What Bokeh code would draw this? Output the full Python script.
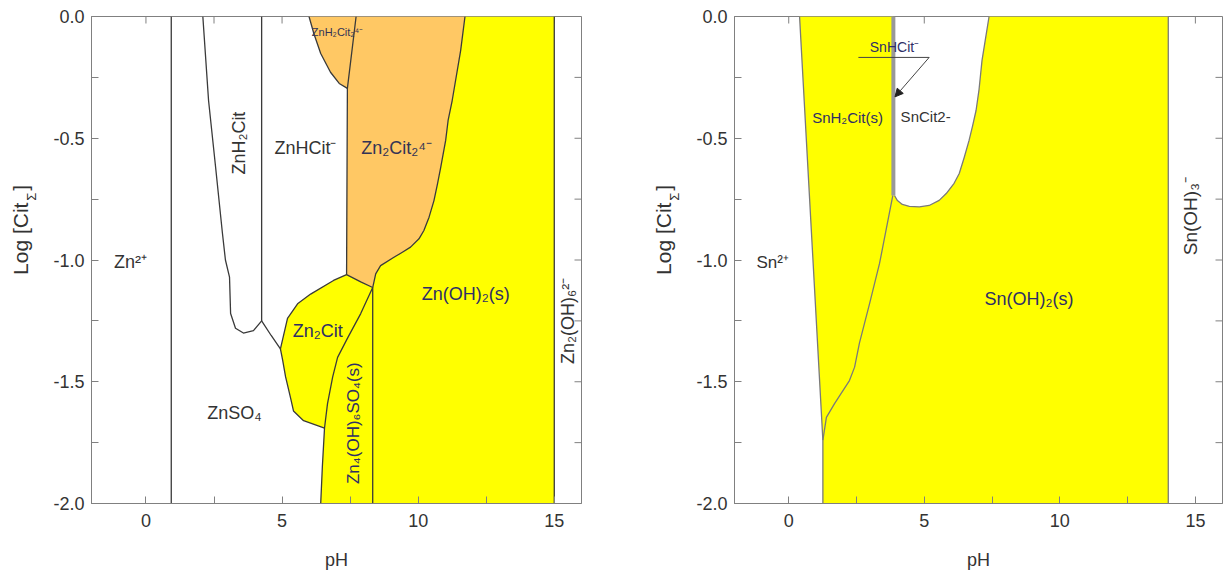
import math
from bokeh.plotting import figure
from bokeh.layouts import row
from bokeh.models import (Range1d, FixedTicker, PrintfTickFormatter, Arrow, NormalHead,
                          ColumnDataSource)
from bokeh.embed import file_html
from bokeh.resources import INLINE
from bokeh.core.properties import value

FONT = "Liberation Sans"

# ---------------- axes ----------------
ph_range = (-2, 16)
log_range = (-2, 0)
x_ticks = [0, 5, 10, 15]
x_minor = [2.5, 7.5, 12.5]
y_ticks = [-2.0, -1.5, -1.0, -0.5, 0.0]
y_minor = [-1.75, -1.25, -0.75, -0.25]
x_title = "pH"
y_title_parts = ["Log [Cit", "Σ", "]"]

# ---------------- Zn diagram boundaries (pH, log[Cit]) ----------------
zn_a_ph = [0.93, 0.93]
zn_a_log = [0.0, -2.0]
zn_h2cit_ph = [2.09, 2.30, 2.56, 2.81, 2.92, 3.07, 3.11, 3.29, 3.58, 3.95, 4.25]
zn_h2cit_log = [0.0, -0.345, -0.62, -0.89, -1.00, -1.07, -1.22, -1.28, -1.30, -1.29, -1.25]
zn_hcit_ph = [4.25, 4.25]
zn_hcit_log = [0.0, -1.25]
zn_so4_ph = [4.25, 4.60, 4.94]
zn_so4_log = [-1.25, -1.31, -1.365]
zn2cit_top_ph = [4.94, 5.20, 5.57, 6.05, 6.89, 7.37, 7.89, 8.33]
zn2cit_top_log = [-1.365, -1.24, -1.18, -1.14, -1.084, -1.06, -1.09, -1.113]
zn4_left_ph = [8.33, 7.89, 7.41, 7.04, 6.86, 6.67, 6.56, 6.48, 6.42]
zn4_left_log = [-1.113, -1.22, -1.32, -1.40, -1.48, -1.59, -1.69, -1.85, -2.0]
zn2cit_bot_ph = [6.56, 5.79, 5.42, 5.31, 5.13, 5.02, 4.94]
zn2cit_bot_log = [-1.69, -1.66, -1.62, -1.565, -1.48, -1.41, -1.365]
zn_oh2_ph = [8.33, 8.44, 8.62, 9.11, 9.42, 9.72, 10.03, 10.21, 10.40, 10.58, 10.71, 10.83,
             11.01, 11.10, 11.25, 11.56, 11.72]
zn_oh2_log = [-1.113, -1.057, -1.023, -0.989, -0.968, -0.947, -0.913, -0.879, -0.824, -0.756,
              -0.687, -0.619, -0.509, -0.427, -0.345, -0.140, 0.0]
zn_sep_ph = [8.33, 8.33]
zn_sep_log = [-1.113, -2.0]
zn_cit2_left_ph = [7.37, 7.40, 7.72]
zn_cit2_left_log = [-1.06, -0.295, 0.0]
zn_bowl_ph = [5.99, 6.17, 6.42, 6.78, 7.10, 7.40]
zn_bowl_log = [0.0, -0.071, -0.152, -0.229, -0.275, -0.295]
zn_oh6_ph = [15.0, 15.0]
zn_oh6_log = [0.0, -2.0]

zn_labels = ["Zn²⁺", "ZnH₂Cit", "ZnHCit⁻", "Zn₂Cit₂⁴⁻", "ZnH₂Cit₂⁴⁻", "Zn₂Cit",
             "ZnSO₄", "Zn₄(OH)₆SO₄(s)", "Zn(OH)₂(s)", "Zn₂(OH)₆²⁻"]
zn_label_ph = [-0.57, 3.40, 5.86, 9.21, 7.04, 6.31, 3.25, 7.63, 11.75, 15.50]
zn_label_log = [-1.01, -0.52, -0.54, -0.54, -0.062, -1.29, -1.63, -1.67, -1.14, -1.25]
zn_label_rot = [0, 90, 0, 0, 0, 0, 0, 90, 0, 90]
zn_label_size = ["18px", "18px", "18px", "18px", "11px", "18px", "18px", "17px", "18px", "18px"]
zn_label_color = ["#333333", "#333333", "#333333", "#333355", "#333355", "#2e2e66",
                  "#333333", "#2e2e66", "#2e2e66", "#333333"]

# ---------------- Sn diagram boundaries ----------------
sn_left_ph = [0.40, 1.26, 1.26]
sn_left_log = [0.0, -1.74, -2.0]
sn_curve_ph = [1.26, 1.39, 1.69, 2.24, 2.43, 2.61, 2.98, 3.35, 3.84]
sn_curve_log = [-1.74, -1.646, -1.59, -1.495, -1.44, -1.34, -1.18, -1.014, -0.735]
sn_band_ph = [3.86, 3.86]
sn_band_log = [0.0, -0.735]
sn_cit2_ph = [3.90, 4.01, 4.19, 4.45, 4.82, 5.18, 5.55, 5.81, 6.10, 6.29, 6.47, 6.65, 6.78,
              6.91, 7.02, 7.13, 7.26, 7.39]
sn_cit2_log = [-0.735, -0.756, -0.772, -0.78, -0.782, -0.776, -0.755, -0.727, -0.685, -0.645,
               -0.58, -0.51, -0.45, -0.386, -0.30, -0.18, -0.09, 0.0]
sn_oh3_ph = [14.0, 14.0]
sn_oh3_log = [0.0, -2.0]
sn_pointer_ph = [2.57, 5.18, 3.92]
sn_pointer_log = [-0.168, -0.168, -0.33]

sn_labels = ["SnHCit⁻", "SnH₂Cit(s)", "SnCit2-", "Sn²⁺", "Sn(OH)₂(s)", "Sn(OH)₃⁻"]
sn_label_ph = [3.90, 2.17, 5.05, -0.59, 8.86, 14.82]
sn_label_log = [-0.127, -0.415, -0.41, -1.01, -1.16, -0.82]
sn_label_rot = [0, 0, 0, 0, 0, 90]
sn_label_size = ["14px", "15px", "15px", "17px", "18px", "19px"]
sn_label_color = ["#2e2e66", "#2e2e66", "#333333", "#333333", "#2e2e66", "#333333"]

YELLOW = "#FFFF00"
ORANGE = "#FFC864"
AXIS = "#808080"
TXT = "#333333"
H = 581
TOP, BOTTOM = 16, 78


def title_fig(width):
    """Narrow strip holding the rotated y-axis title Log [Cit_Σ]."""
    t = figure(width=width, height=H, x_range=Range1d(0, width), y_range=Range1d(0, H),
               output_backend="svg", toolbar_location=None, x_axis_type=None, y_axis_type=None,
               min_border_left=0, min_border_right=0, min_border_top=0, min_border_bottom=0)
    t.grid.visible = False
    t.outline_line_color = None
    cx = 20
    ys = H - 215               # centre of the subscript
    src = ColumnDataSource(dict(
        x=[cx, cx + 11, cx],
        y=[ys - 7, ys, ys + 7],
        text=y_title_parts,
        size=["21px", "13px", "21px"],
        align=["right", "center", "left"]))
    t.text(x="x", y="y", text="text", angle=math.pi / 2, text_font_size="size",
           text_font=value(FONT), text_color=TXT, text_align="align", text_baseline="middle",
           source=src)
    return t


def make_fig(width, left, right):
    p = figure(width=width, height=H, x_range=Range1d(*ph_range), y_range=Range1d(*log_range),
               output_backend="svg", toolbar_location=None,
               min_border_left=left, min_border_right=right, min_border_top=TOP,
               min_border_bottom=BOTTOM)
    p.grid.visible = False
    p.outline_line_color = AXIS
    p.outline_line_width = 1

    for ax, ticks, minor, fmt in ((p.xaxis[0], x_ticks, x_minor, "%d"),
                                  (p.yaxis[0], y_ticks, y_minor, "%.1f")):
        ax.ticker = FixedTicker(ticks=ticks, minor_ticks=minor)
        ax.formatter = PrintfTickFormatter(format=fmt)
        ax.axis_line_color = AXIS
        ax.major_tick_line_color = AXIS
        ax.minor_tick_line_color = AXIS
        ax.major_tick_in = 7
        ax.major_tick_out = 0
        ax.minor_tick_in = 7
        ax.minor_tick_out = 0
        ax.major_label_text_font = FONT
        ax.major_label_text_color = TXT
        ax.major_label_text_font_size = "18px"
    p.xaxis[0].major_label_standoff = 10
    p.yaxis[0].major_label_standoff = 7
    p.xaxis[0].axis_label = x_title
    p.xaxis[0].axis_label_text_font = FONT
    p.xaxis[0].axis_label_text_font_size = "18px"
    p.xaxis[0].axis_label_text_font_style = "normal"
    p.xaxis[0].axis_label_text_color = TXT
    p.xaxis[0].axis_label_standoff = 20

    # inward ticks on the top and right frame edges
    frame_w = width - left - right
    frame_h = H - TOP - BOTTOM
    dy = 7 * (log_range[1] - log_range[0]) / frame_h
    dx = 7 * (ph_range[1] - ph_range[0]) / frame_w
    tx = x_ticks + x_minor
    p.segment(x0=tx, y0=[log_range[1]] * len(tx), x1=tx, y1=[log_range[1] - dy] * len(tx),
              line_color=AXIS, line_width=1)
    ty = y_ticks + y_minor
    p.segment(x0=[ph_range[1]] * len(ty), y0=ty, x1=[ph_range[1] - dx] * len(ty), y1=ty,
              line_color=AXIS, line_width=1)
    return p


def add_labels(p, texts, xs, ys, rots, sizes, colors):
    src = ColumnDataSource(dict(x=xs, y=ys, text=texts,
                                angle=[math.radians(r) for r in rots],
                                size=sizes, color=colors))
    p.text(x="x", y="y", text="text", angle="angle", text_font_size="size", text_color="color",
           text_font=value(FONT), text_align="center", text_baseline="middle", source=src)


# ================= left: Zn =================
t1 = title_fig(45)
p1 = make_fig(598, 46, 62)
ZLINE = "#3a3a3a"

orange_x = zn_bowl_ph + zn_cit2_left_ph[1::-1] + zn2cit_top_ph[5:] + zn_oh2_ph
orange_y = zn_bowl_log + zn_cit2_left_log[1::-1] + zn2cit_top_log[5:] + zn_oh2_log
p1.patch(orange_x, orange_y, fill_color=ORANGE, line_color=None)

z2_x = zn2cit_top_ph + zn4_left_ph[1:7] + zn2cit_bot_ph[1:]
z2_y = zn2cit_top_log + zn4_left_log[1:7] + zn2cit_bot_log[1:]
p1.patch(z2_x, z2_y, fill_color=YELLOW, line_color=None)

zs_x = zn4_left_ph + [zn_oh6_ph[1], zn_oh6_ph[0]] + zn_oh2_ph[::-1]
zs_y = zn4_left_log + [zn_oh6_log[1], zn_oh6_log[0]] + zn_oh2_log[::-1]
p1.patch(zs_x, zs_y, fill_color=YELLOW, line_color=None)

zlines = [(zn_a_ph, zn_a_log), (zn_h2cit_ph, zn_h2cit_log), (zn_hcit_ph, zn_hcit_log),
          (zn_so4_ph, zn_so4_log), (zn2cit_top_ph, zn2cit_top_log), (zn4_left_ph, zn4_left_log),
          (zn2cit_bot_ph, zn2cit_bot_log), (zn_oh2_ph, zn_oh2_log), (zn_sep_ph, zn_sep_log),
          (zn_cit2_left_ph, zn_cit2_left_log), (zn_bowl_ph, zn_bowl_log), (zn_oh6_ph, zn_oh6_log)]
p1.multi_line([a for a, b in zlines], [b for a, b in zlines], line_color=ZLINE, line_width=1.3,
              line_join="round")

add_labels(p1, zn_labels, zn_label_ph, zn_label_log, zn_label_rot, zn_label_size, zn_label_color)

# ================= right: Sn =================
t2 = title_fig(45)
p2 = make_fig(535, 46, 1)
SLINE = "#7a7a7a"

sy_x = sn_left_ph + [sn_oh3_ph[1], sn_oh3_ph[0]] + sn_cit2_ph[::-1] + sn_band_ph[::-1]
sy_y = sn_left_log + [sn_oh3_log[1], sn_oh3_log[0]] + sn_cit2_log[::-1] + sn_band_log[::-1]
p2.patch(sy_x, sy_y, fill_color=YELLOW, line_color=None)

slines = [(sn_left_ph, sn_left_log), (sn_curve_ph, sn_curve_log), (sn_cit2_ph, sn_cit2_log),
          (sn_oh3_ph, sn_oh3_log)]
p2.multi_line([a for a, b in slines], [b for a, b in slines], line_color=SLINE, line_width=1.3,
              line_join="round")
p2.line(sn_band_ph, sn_band_log, line_color="#999999", line_width=4)
p2.line(sn_pointer_ph[:2], sn_pointer_log[:2], line_color="#444444", line_width=1)
p2.add_layout(Arrow(end=NormalHead(size=8, fill_color="#222222", line_color="#222222"),
                    x_start=sn_pointer_ph[1], y_start=sn_pointer_log[1],
                    x_end=sn_pointer_ph[2], y_end=sn_pointer_log[2],
                    line_color="#444444", line_width=1))

add_labels(p2, sn_labels, sn_label_ph, sn_label_log, sn_label_rot, sn_label_size, sn_label_color)

layout = row(t1, p1, t2, p2, spacing=0)
open("out.html", "w").write(file_html(layout, INLINE))
